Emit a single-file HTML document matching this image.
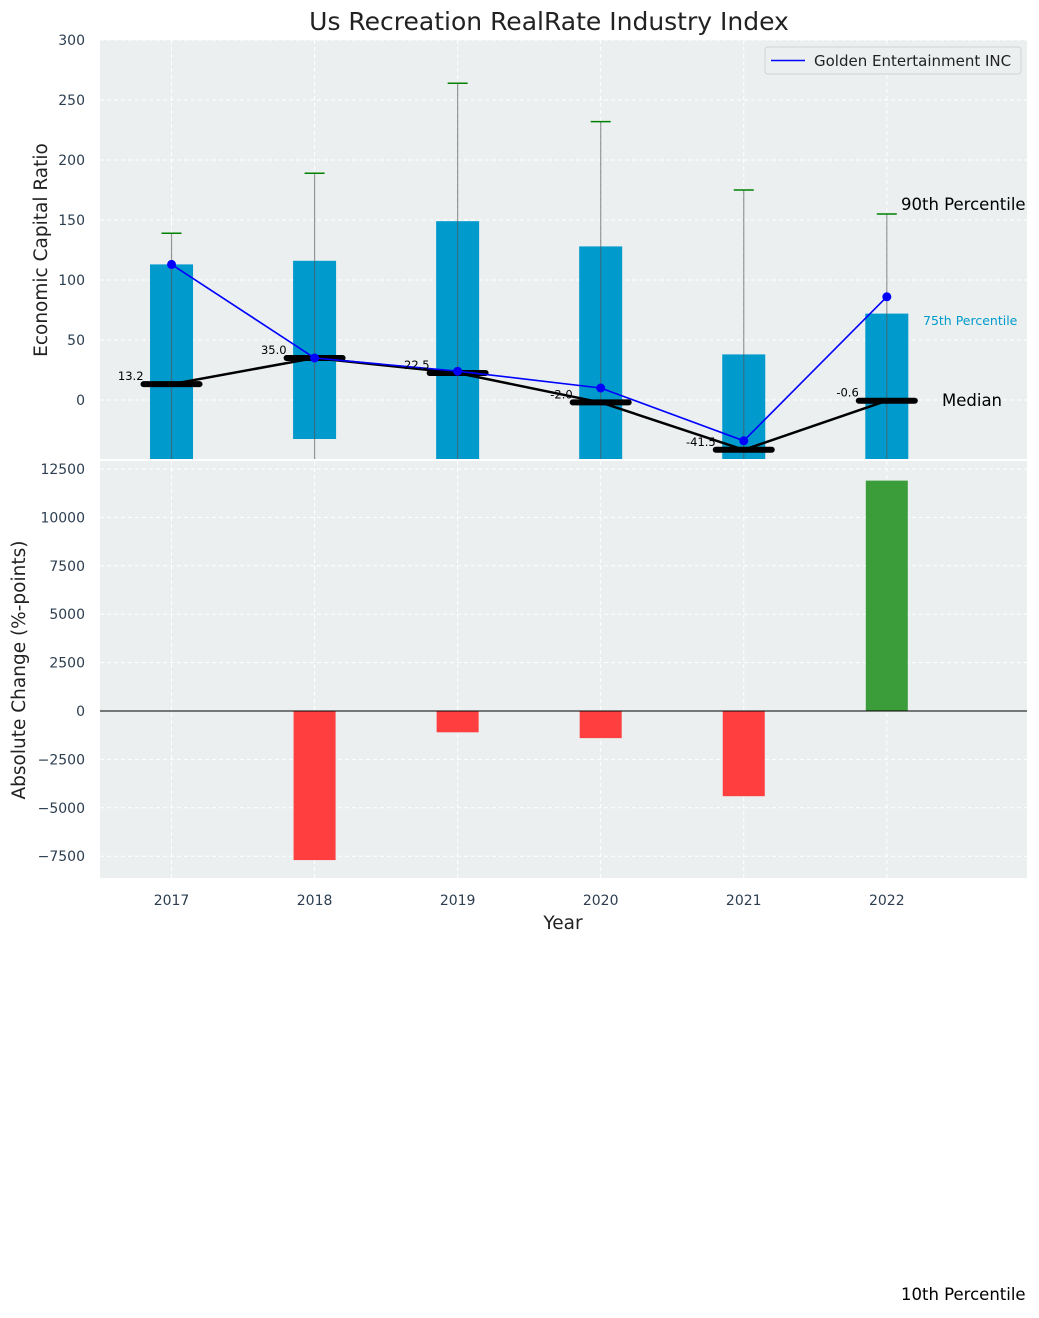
<!DOCTYPE html>
<html><head><meta charset="utf-8"><style>
body{margin:0;background:#fff;font-family:"DejaVu Sans","Liberation Sans",sans-serif}
svg text{font-family:"DejaVu Sans","Liberation Sans",sans-serif}
</style></head><body>
<svg id="c" width="1039" height="1314"></svg>
<script>
const years=[2017,2018,2019,2020,2021,2022];
const p75=[113,116,149,128,38,72];
const p10=[-60,-32.5,-60,-60,-60,-60];
const p90=[139,189,264,232,175,155];
const medians=[13.2,35.0,22.5,-2.0,-41.5,-0.6];
const golden=[113,35,24,10,-34,86];
const changes=[0,-7700,-1100,-1400,-4400,11900];
const topTicks=[0,50,100,150,200,250,300];
const botTicks=[-7500,-5000,-2500,0,2500,5000,7500,10000,12500];

const NS='http://www.w3.org/2000/svg';
const svg=document.getElementById('c');
function el(t,a,txt){const e=document.createElementNS(NS,t);for(const k in a)e.setAttribute(k,a[k]);if(txt!=null)e.textContent=txt;svg.appendChild(e);return e;}
const L=100,R=1027;
const x=v=>L+(v-2016.5)/(2022.98-2016.5)*(R-L);
const yT=v=>400-v*1.2;
const yB=v=>711-v*48.4/2500;

let e=el('rect',{x:L,y:40,width:R-L,height:419,fill:'#ebeff0'});

e=el('rect',{x:L,y:461,width:R-L,height:417,fill:'#ebeff0'});

topTicks.forEach(t=>{el('line',{x1:L,x2:R,y1:yT(t),y2:yT(t),stroke:'#fff','stroke-dasharray':'4,3'});
 e=el('text',{x:85,y:yT(t)+5,'text-anchor':'end','font-size':14,fill:'#2c3e50'},t);
 });
botTicks.forEach(t=>{el('line',{x1:L,x2:R,y1:yB(t),y2:yB(t),stroke:'#fff','stroke-dasharray':'4,3'});
 e=el('text',{x:85,y:yB(t)+5,'text-anchor':'end','font-size':14,fill:'#2c3e50'},t<0?'\u2212'+(-t):t);
 });
years.forEach(yr=>{el('line',{x1:x(yr),x2:x(yr),y1:40,y2:459,stroke:'#fff','stroke-dasharray':'4,3'});
 el('line',{x1:x(yr),x2:x(yr),y1:461,y2:878,stroke:'#fff','stroke-dasharray':'4,3'});
 e=el('text',{x:x(yr),y:905,'text-anchor':'middle','font-size':14,fill:'#2c3e50'},yr);
 });

const defs=el('defs',{});
const cp=document.createElementNS(NS,'clipPath');cp.setAttribute('id','ct');defs.appendChild(cp);
const cr=document.createElementNS(NS,'rect');['x','y','width','height'].forEach((k,i)=>cr.setAttribute(k,[L,40,R-L,419][i]));cp.appendChild(cr);
const g=document.createElementNS(NS,'g');g.setAttribute('clip-path','url(#ct)');svg.appendChild(g);
function ge(t,a){const n=document.createElementNS(NS,t);for(const k in a)n.setAttribute(k,a[k]);g.appendChild(n);return n;}

years.forEach((yr,i)=>{
 e=ge('rect',{x:x(yr)-21.5,y:yT(p75[i]),width:43,height:yT(p10[i])-yT(p75[i]),fill:'#009acd'});
 
 e=ge('line',{x1:x(yr),x2:x(yr),y1:yT(-60),y2:yT(p90[i]),stroke:'#555','stroke-opacity':0.6,'stroke-width':1.2});
 
 e=ge('line',{x1:x(yr)-10,x2:x(yr)+10,y1:yT(p90[i]),y2:yT(p90[i]),stroke:'green','stroke-width':1.5});
 
});
e=ge('polyline',{points:years.map((yr,i)=>x(yr)+','+yT(medians[i])).join(' '),fill:'none',stroke:'#000','stroke-width':2.5});

years.forEach((yr,i)=>{
 e=ge('line',{x1:x(yr)-28,x2:x(yr)+28,y1:yT(medians[i]),y2:yT(medians[i]),stroke:'#000','stroke-width':6,'stroke-linecap':'round'});
 
});
e=ge('polyline',{points:years.map((yr,i)=>x(yr)+','+yT(golden[i])).join(' '),fill:'none',stroke:'blue','stroke-width':1.6});

years.forEach((yr,i)=>{
 e=ge('circle',{cx:x(yr),cy:yT(golden[i]),r:4.5,fill:'blue'});
 
 e=el('text',{x:x(yr)-28,y:yT(medians[i])-4,'text-anchor':'end','font-size':11.5,fill:'#000'},medians[i].toFixed(1));
 
});

years.forEach((yr,i)=>{
 const v=changes[i];if(v===0)return;
 e=el('rect',{x:x(yr)-21,y:Math.min(yB(v),yB(0)),width:42,height:Math.abs(yB(v)-yB(0)),fill:v>=0?'#3a9d3a':'#ff3f3f'});
 
});
el('line',{x1:L,x2:R,y1:yB(0),y2:yB(0),stroke:'#000','stroke-width':1});

e=el('rect',{x:765,y:47,width:256,height:27,rx:3,fill:'#ebeff0',stroke:'#d0d3d8'});

el('line',{x1:771,x2:805,y1:60.5,y2:60.5,stroke:'blue','stroke-width':1.6});
e=el('text',{x:814,y:66,'font-size':15,fill:'#222'},'Golden Entertainment INC');


const ann=[[901,210,'90th Percentile',16.5,'#000'],[923,325,'75th Percentile',12.5,'#009acd'],[942,406,'Median',16.5,'#000'],[901,1300,'10th Percentile',16.5,'#000']];
ann.forEach(a=>{e=el('text',{x:a[0],y:a[1],'font-size':a[3],fill:a[4]},a[2]);
 });

e=el('text',{x:549,y:30,'text-anchor':'middle','font-size':25,fill:'#222'},'Us Recreation RealRate Industry Index');

e=el('text',{x:0,y:0,transform:'translate(47,250) rotate(-90)','text-anchor':'middle','font-size':18.5,fill:'#222'},'Economic Capital Ratio');

e=el('text',{x:0,y:0,transform:'translate(25,670) rotate(-90)','text-anchor':'middle','font-size':18.5,fill:'#222'},'Absolute Change (%-points)');

e=el('text',{x:563,y:929,'text-anchor':'middle','font-size':18.5,fill:'#222'},'Year');

</script>
</body></html>
